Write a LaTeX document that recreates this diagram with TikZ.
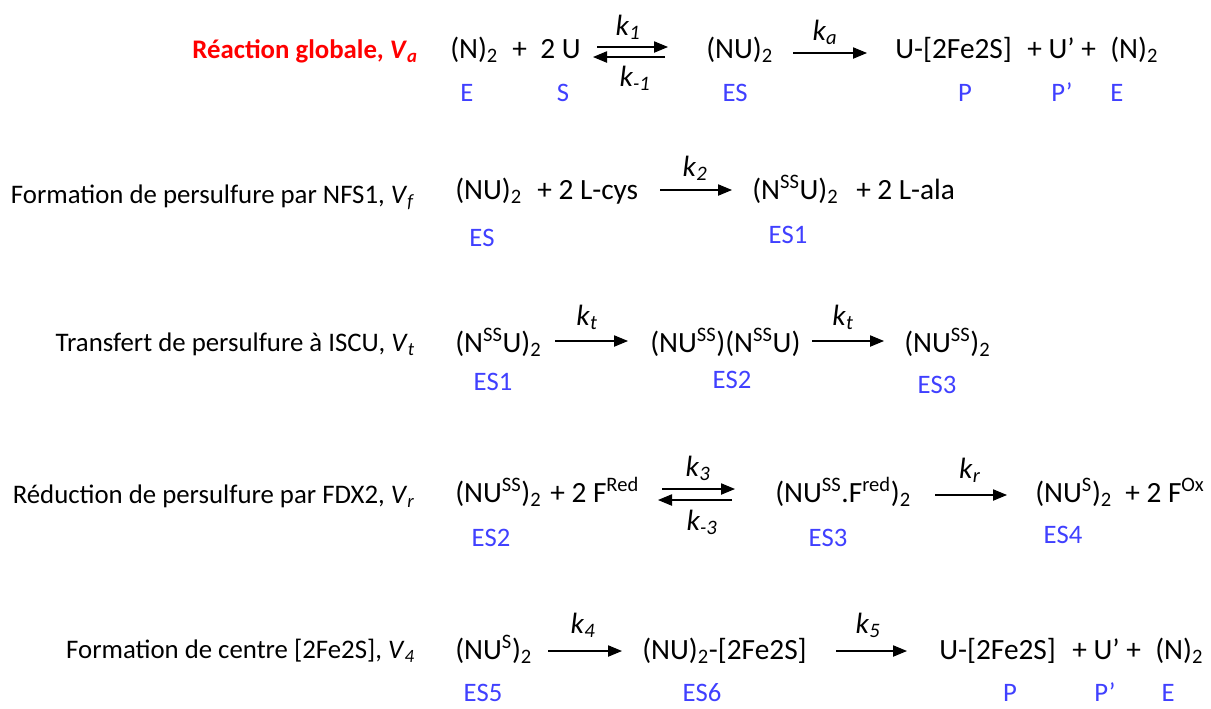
\documentclass[tikz,border=0pt]{standalone}
\usepackage{fontspec}
\setmainfont{Carlito}
\usetikzlibrary{arrows.meta}
\definecolor{tagblue}{RGB}{64,64,255}

\newcommand{\kk}[1]{\textit{k}\textsubscript{\textit{#1}}}
\newcommand{\vv}[1]{\textit{V}\textsubscript{\textit{#1}}}
\newcommand{\dn}[1]{\textsubscript{#1}}
\newcommand{\hi}[1]{\textsuperscript{#1}}

\begin{document}
\begin{tikzpicture}[
    x=0.75pt, y=-0.75pt,
    spec/.style={anchor=base west, inner sep=0pt, font=\fontsize{22}{26}\selectfont},
    tag/.style={anchor=base, inner sep=0pt, text=tagblue, font=\fontsize{20}{24}\selectfont},
    rate/.style={inner sep=0pt, font=\fontsize{22}{26}\selectfont},
    title/.style={anchor=base east, inner sep=0pt, font=\fontsize{20.1}{24}\selectfont},
    fwd/.style={-{Triangle[length=10.5pt,width=8.5pt]}, line width=0.8pt}
]
\useasboundingbox (0,0) rectangle (1211,708);

% Réaction globale
\node[title, text=red, font=\fontsize{20.1}{24}\selectfont\bfseries] (t1) at (418,58) {Réaction globale, \vv{a}};
\node[spec] (n1a) at (450,58) {(N)\dn{2}};
\node[spec] (n1b) at (512,58) {+};
\node[spec] (n1c) at (540,58) {2 U};
\node[spec] (n1d) at (706,58) {(NU)\dn{2}};
\node[spec] (n1e) at (895,58) {U-[2Fe2S]};
\node[spec] (n1f) at (1027,58) {+ U’ +};
\node[spec] (n1g) at (1110,58) {(N)\dn{2}};
\coordinate (a1) at (597,47); \coordinate (b1) at (668,47);
\coordinate (c1) at (665,57); \coordinate (d1) at (593,57);
\coordinate (a2) at (793,53); \coordinate (b2) at (867,53);
\draw[fwd] (a1) -- (b1);
\draw[fwd] (c1) -- (d1);
\draw[fwd] (a2) -- (b2);
\node[rate] (k1) at (628,27) {\kk{1}};
\node[rate] (km1) at (635,78) {\kk{-1}};
\node[rate] (ka) at (825,32) {\kk{a}};
\node[tag] (g1a) at (467,101) {E};
\node[tag] (g1b) at (563,101) {S};
\node[tag] (g1c) at (735,101) {ES};
\node[tag] (g1d) at (965,101) {P};
\node[tag] (g1e) at (1062,101) {P’};
\node[tag] (g1f) at (1117,101) {E};

% NFS1
\node[title] (t2) at (415,203) {Formation de persulfure par NFS1, \vv{f}};
\node[spec] (n2a) at (455,199) {(NU)\dn{2}};
\node[spec] (n2b) at (537,199) {+ 2 L-cys};
\node[spec] (n2c) at (752,199) {(N\hi{SS}U)\dn{2}};
\node[spec] (n2d) at (856,199) {+};
\node[spec] (n2e) at (877,199) {2 L-ala};
\coordinate (a3) at (660,190); \coordinate (b3) at (732,190);
\draw[fwd] (a3) -- (b3);
\node[rate] (k2) at (695,168) {\kk{2}};
\node[tag] (g2a) at (482,246) {ES};
\node[tag] (g2b) at (788,243) {ES1};

% transfert
\node[title] (t3) at (415,351) {Transfert de persulfure à ISCU, \vv{t}};
\node[spec] (n3a) at (455,352) {(N\hi{SS}U)\dn{2}};
\node[spec] (n3b) at (650,352) {(NU\hi{SS})(N\hi{SS}U)};
\node[spec] (n3c) at (904,352) {(NU\hi{SS})\dn{2}};
\coordinate (a4) at (555,341); \coordinate (b4) at (628,341);
\coordinate (a5) at (812,341); \coordinate (b5) at (884,341);
\draw[fwd] (a4) -- (b4);
\draw[fwd] (a5) -- (b5);
\node[rate] (kt1) at (587,317) {\kk{t}};
\node[rate] (kt2) at (843,317) {\kk{t}};
\node[tag] (g3a) at (493,390) {ES1};
\node[tag] (g3b) at (732,388) {ES2};
\node[tag] (g3c) at (937,393) {ES3};

% FDX2
\node[title] (t4) at (415,503) {Réduction de persulfure par FDX2, \vv{r}};
\node[spec] (n4a) at (455,502) {(NU\hi{SS})\dn{2}};
\node[spec] (n4b) at (550,502) {+ 2 F\hi{Red}};
\node[spec] (n4c) at (775,502) {(NU\hi{SS}.F\hi{red})\dn{2}};
\node[spec] (n4d) at (1035,502) {(NU\hi{S})\dn{2}};
\node[spec] (n4e) at (1125,502) {+ 2 F\hi{Ox}};
\coordinate (a6) at (662,489); \coordinate (b6) at (735,489);
\coordinate (c6) at (732,500); \coordinate (d6) at (658,500);
\coordinate (a7) at (935,495); \coordinate (b7) at (1007,495);
\draw[fwd] (a6) -- (b6);
\draw[fwd] (c6) -- (d6);
\draw[fwd] (a7) -- (b7);
\node[rate] (k3) at (698,468) {\kk{3}};
\node[rate] (km3) at (702,522) {\kk{-3}};
\node[rate] (kr) at (970,470) {\kk{r}};
\node[tag] (g4a) at (491,546) {ES2};
\node[tag] (g4b) at (828,546) {ES3};
\node[tag] (g4c) at (1063,543) {ES4};

% centre [2Fe2S]
\node[title] (t5) at (415,658) {Formation de centre [2Fe2S], \vv{4}};
\node[spec] (n5a) at (455,659) {(NU\hi{S})\dn{2}};
\node[spec] (n5b) at (642,659) {(NU)\dn{2}-[2Fe2S]};
\node[spec] (n5c) at (939,659) {U-[2Fe2S]};
\node[spec] (n5d) at (1072,659) {+ U’ +};
\node[spec] (n5e) at (1155,659) {(N)\dn{2}};
\coordinate (a8) at (548,651); \coordinate (b8) at (622,651);
\coordinate (a9) at (836,651); \coordinate (b9) at (907,651);
\draw[fwd] (a8) -- (b8);
\draw[fwd] (a9) -- (b9);
\node[rate] (k4) at (583,625) {\kk{4}};
\node[rate] (k5) at (868,625) {\kk{5}};
\node[tag] (g5a) at (483,701) {ES5};
\node[tag] (g5b) at (702,701) {ES6};
\node[tag] (g5c) at (1010,701) {P};
\node[tag] (g5d) at (1105,701) {P’};
\node[tag] (g5e) at (1168,701) {E};

\end{tikzpicture}
\end{document}
